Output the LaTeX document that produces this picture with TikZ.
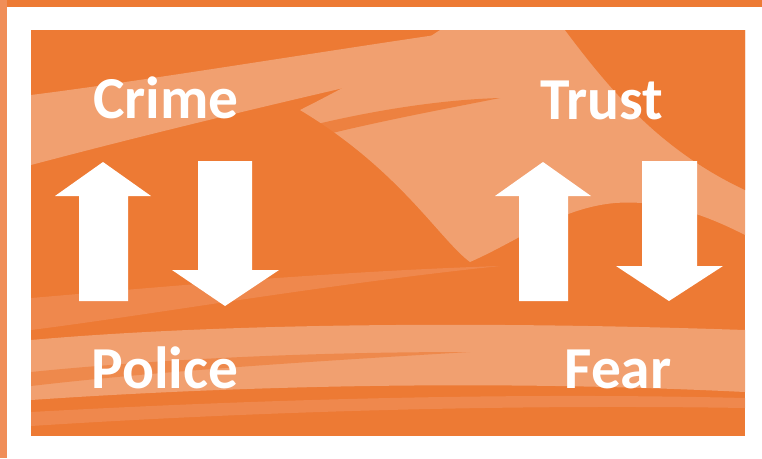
\documentclass[tikz,border=0pt]{standalone}
\usepackage{fontspec}
\setmainfont{Carlito}
\definecolor{darkor}{RGB}{237,122,52}
\definecolor{lightor}{RGB}{241,160,112}
\definecolor{midor}{RGB}{240,142,88}
\tikzset{
  lbl/.style={text=white, font=\fontsize{59.5}{62}\selectfont\bfseries, anchor=base, inner sep=0pt},
  blockarrow/.style={fill=white, draw=none},
  swoosh/.style={fill=lightor, draw=none},
  swooshmid/.style={fill=midor, draw=none, opacity=0.7}
}
\begin{document}
\begin{tikzpicture}[x=1pt,y=-1pt]
\useasboundingbox (0,0) rectangle (762,458);
% outer background
\fill[darkor] (0,0) rectangle (762,458);
\fill[midor] (0,0) rectangle (7,458);
% white frame
\fill[white] (7,7) rectangle (762,458);
% inner picture
\begin{scope}
\clip (31,30) rectangle (745,436);
\fill[darkor] (31,30) rectangle (745,436);
% upper-left light streak
\fill[swoosh] (31,95) .. controls (150,80) and (330,50) .. (470,30) -- (600,30)
  .. controls (420,70) and (220,115) .. (31,165) -- cycle;
% right light area, merging into the streak
\fill[swoosh] (440,30) -- (745,30) -- (745,235)
  .. controls (700,212) and (660,200) .. (615,203)
  .. controls (560,208) and (520,240) .. (470,262)
  .. controls (440,240) and (400,170) .. (300,110)
  .. controls (360,80) and (410,50) .. (440,30) -- cycle;
% tapering dark streak inside the light area
\fill[darkor, opacity=0.8] (250,142) .. controls (340,115) and (430,100) .. (500,98)
  .. controls (430,112) and (340,128) .. (250,155) -- cycle;
% dark wedge top right
\fill[darkor] (565,30) .. controls (610,90) and (660,150) .. (745,190) -- (745,30) -- cycle;
% tapering light streak lower left
\fill[swooshmid] (31,298) .. controls (150,288) and (320,272) .. (500,266)
  .. controls (320,285) and (150,315) .. (31,330) -- cycle;
% light band behind Police / Fear
\fill[swoosh] (31,340) .. controls (200,325) and (450,320) .. (745,330)
  -- (745,392) .. controls (500,380) and (250,385) .. (31,400) -- cycle;
\fill[darkor, opacity=0.6] (31,372) .. controls (150,360) and (300,352) .. (470,352)
  .. controls (300,362) and (150,372) .. (31,386) -- cycle;
\fill[swooshmid] (31,412) .. controls (250,400) and (500,392) .. (745,398)
  -- (745,408) .. controls (500,404) and (250,412) .. (31,426) -- cycle;
\end{scope}
% left pair of arrows
\fill[blockarrow] (103,162) -- (151,196) -- (128,196) -- (128,301) -- (79,301) -- (79,196) -- (55,196) -- cycle;
\fill[blockarrow] (198,161) -- (252,161) -- (252,270) -- (279,270) -- (225,306) -- (172,270) -- (198,270) -- cycle;
% right pair of arrows
\fill[blockarrow] (543,162) -- (591,196) -- (568,196) -- (568,301) -- (519,301) -- (519,196) -- (495,196) -- cycle;
\fill[blockarrow] (642,161) -- (697,161) -- (697,266) -- (723,266) -- (669,301) -- (616,266) -- (642,266) -- cycle;
% labels
\node[lbl] (crime) at (166,118) {Crime};
\node[lbl] (trust) at (602,119) {Trust};
\node[lbl] (police) at (165,388) {Police};
\node[lbl] (fear) at (618,388) {Fear};
\end{tikzpicture}
\end{document}
